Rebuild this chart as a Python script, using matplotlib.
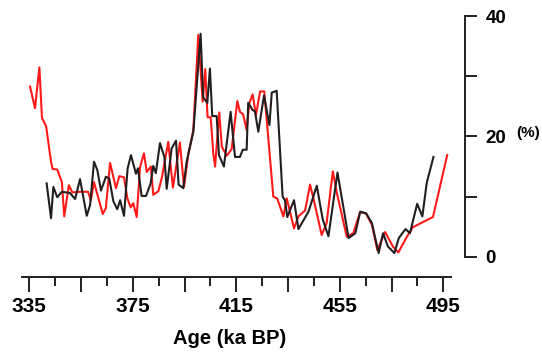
import numpy as np
import matplotlib
matplotlib.use('Agg')
import matplotlib.pyplot as plt
from matplotlib.ticker import FixedLocator, FixedFormatter

plt.rcParams['font.family'] = ['Liberation Sans', 'DejaVu Sans']
plt.rcParams['font.weight'] = 'bold'

# red record: age (ka BP), value (%)
red_age = [335.3, 337.2, 338.9, 339.9, 341.5, 343.4, 344.0, 345.8, 347.6, 348.5,
           350.3, 351.6, 354.6, 357.7, 358.8, 360.0, 363.4, 364.6, 366.2, 368.5,
           369.8, 371.6, 372.9, 374.2, 375.2, 376.5, 377.8, 379.3, 380.4, 382.0,
           382.9, 384.9, 386.3, 388.7, 390.5, 393.2, 394.8, 396.4, 398.4, 400.3,
           402.0, 403.0, 403.9, 405.1, 406.1, 406.8, 408.4, 409.4, 411.3, 413.2,
           415.4, 416.4, 417.6, 419.0, 420.0, 421.3, 422.6, 424.2, 425.8, 429.3,
           430.8, 433.2, 434.5, 437.3, 439.0, 441.6, 443.5, 444.8, 448.0, 449.9,
           452.3, 453.8, 457.7, 460.2, 462.8, 465.1, 467.4, 469.5, 472.5, 475.5,
           477.6, 480.9, 483.2, 491.0, 496.5]
red_val = [28.3, 24.7, 31.5, 23.1, 21.7, 15.8, 14.6, 14.5, 12.4, 6.7,
           11.9, 10.7, 10.8, 10.8, 9.4, 12.4, 7.1, 8.1, 15.6, 11.4,
           13.4, 13.2, 9.7, 8.2, 8.9, 6.6, 14.9, 17.2, 14.1, 15.0,
           10.3, 10.9, 13.3, 19.1, 11.5, 19.0, 11.6, 16.9, 21.1, 36.9,
           25.8, 31.2, 23.2, 23.2, 17.2, 15.0, 24.0, 18.3, 16.8, 17.9,
           25.9, 24.1, 23.7, 21.1, 25.5, 27.0, 23.6, 27.5, 27.5, 10.0,
           9.7, 6.7, 9.7, 4.7, 6.7, 7.7, 12.0, 9.7, 3.6, 5.6,
           14.2, 10.7, 3.3, 3.9, 7.4, 7.2, 5.3, 1.1, 4.1, 1.7,
           0.7, 3.3, 4.9, 6.6, 16.9]

# black record
blk_age = [341.7, 343.4, 344.3, 345.8, 347.6, 350.7, 352.7, 354.6, 357.2, 358.5,
           360.0, 361.3, 362.7, 364.6, 365.9, 367.5, 369.0, 370.1, 371.6, 373.0,
           374.3, 376.2, 377.0, 378.4, 380.1, 381.9, 382.9, 383.9, 385.5, 387.2,
           388.1, 390.0, 391.7, 392.7, 394.5, 395.8, 398.4, 401.2, 402.2, 403.8,
           404.8, 405.7, 407.4, 408.3, 410.2, 412.8, 414.5, 416.4, 417.5, 419.0,
           419.6, 421.3, 422.2, 423.5, 425.7, 427.8, 428.7, 430.6, 432.9, 433.8,
           434.7, 437.3, 439.0, 442.9, 446.1, 448.4, 450.6, 454.1, 458.4, 461.0,
           462.9, 465.2, 467.4, 470.0, 471.7, 473.6, 476.1, 477.8, 480.4, 482.1,
           484.9, 486.9, 488.6, 491.2]
blk_val = [12.2, 6.4, 11.6, 9.9, 10.8, 10.6, 9.6, 12.9, 6.8, 8.6,
           15.8, 14.4, 11.0, 13.3, 13.0, 9.2, 7.9, 9.4, 6.8, 14.7,
           16.9, 13.8, 14.7, 10.1, 10.1, 12.2, 15.1, 13.9, 18.9, 16.6,
           11.3, 18.0, 19.3, 12.0, 11.4, 15.8, 20.8, 37.1, 26.5, 25.6,
           31.3, 23.4, 23.4, 16.9, 15.0, 24.1, 16.6, 16.6, 17.8, 17.8,
           25.6, 24.4, 24.2, 20.8, 26.8, 21.9, 27.3, 27.6, 10.0, 9.4,
           6.6, 9.4, 4.6, 7.5, 11.8, 6.2, 3.4, 14.0, 3.1, 3.9,
           7.5, 7.2, 5.6, 0.6, 3.9, 1.7, 0.6, 3.1, 4.6, 3.9,
           8.8, 6.7, 12.3, 16.6]

x_major = [335, 355, 375, 395, 415, 435, 455, 475, 495]
x_labels = ['335', '', '375', '', '415', '', '455', '', '495']
x_minor = [345, 365, 385, 405, 425, 445, 465, 485]
y_ticks = [0, 10, 20, 30, 40]
y_labels = ['0', '', '20', '', '40']

INK = '#231f20'

fig = plt.figure(figsize=(5.42, 3.54), dpi=100)
ax = fig.add_axes([22/542, 0.2749, 429/542, 0.6791])

ax.plot(red_age, red_val, color='#ff1a1a', lw=1.5, zorder=2)
ax.plot(blk_age, blk_val, color=INK, lw=1.5, zorder=3)

ax.set_xlim(332.18, 497.97)
ax.set_ylim(0, 40)

for s in ('top', 'left'):
    ax.spines[s].set_visible(False)
ax.spines['bottom'].set_position(('outward', 14.6))
ax.spines['right'].set_position(('outward', 10.1))
for s in ('bottom', 'right'):
    ax.spines[s].set_linewidth(1.4)
    ax.spines[s].set_color(INK)

ax.xaxis.set_major_locator(FixedLocator(x_major))
ax.xaxis.set_major_formatter(FixedFormatter(x_labels))
ax.xaxis.set_minor_locator(FixedLocator(x_minor))
ax.tick_params(axis='x', which='major', direction='out', length=10.5,
               width=1.4, color=INK, labelsize=15, pad=4)
ax.tick_params(axis='x', which='minor', direction='out', length=6.5,
               width=1.4, color=INK)

ax.yaxis.tick_right()
ax.yaxis.set_major_locator(FixedLocator(y_ticks))
ax.yaxis.set_major_formatter(FixedFormatter(y_labels))
ax.tick_params(axis='y', which='major', direction='out', length=8.4,
               width=1.4, color=INK, labelsize=13.5, pad=6.5)

for lab in ax.get_xticklabels() + ax.get_yticklabels():
    lab.set_fontweight('bold')

fig.text(230/542, 1 - 338/354, 'Age (ka BP)', ha='center', va='center',
         fontsize=14.5, fontweight='bold')
fig.text(516/542, 1 - 133.5/354, '(%)', ha='left', va='center',
         fontsize=11, fontweight='bold')

fig.savefig('out.png', dpi=100)
